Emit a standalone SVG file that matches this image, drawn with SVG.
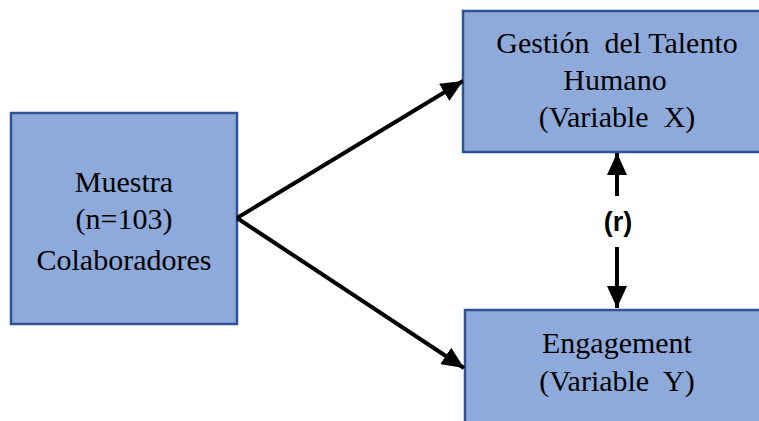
<svg xmlns="http://www.w3.org/2000/svg" width="759" height="421" viewBox="0 0 759 421">
  <style>
    .box { fill: #8EAADB; stroke: #2F5496; stroke-width: 2.5; }
    .lbl { font-family: "Liberation Serif", "Times New Roman", serif; font-size: 30px; fill: #000; text-anchor: middle; }
    .conn { stroke: #000; stroke-width: 4; fill: none; }
    .r { font-family: "Liberation Sans", Arial, sans-serif; font-size: 27px; font-weight: bold; fill: #000; text-anchor: middle; }
  </style>
  <defs>
    <marker id="ah" markerUnits="userSpaceOnUse" markerWidth="24" markerHeight="20" refX="22" refY="10" orient="auto">
      <path d="M0,0 L22,10 L0,20 Z" fill="#000"/>
    </marker>
  </defs>
  <rect width="759" height="421" fill="#fff"/>
  <g id="muestra">
    <rect class="box" x="11" y="113" width="226" height="211"/>
    <text class="lbl" x="124" y="192">Muestra</text>
    <text class="lbl" x="124" y="229">(n=103)</text>
    <text class="lbl" x="124" y="270">Colaboradores</text>
  </g>
  <g id="gestion">
    <rect class="box" x="463" y="11" width="310" height="141"/>
    <text class="lbl" x="617" y="53" xml:space="preserve">Gestión  del Talento</text>
    <text class="lbl" x="615" y="90">Humano</text>
    <text class="lbl" x="617" y="127" xml:space="preserve">(Variable  X)</text>
  </g>
  <g id="engagement">
    <rect class="box" x="465" y="310" width="310" height="130"/>
    <text class="lbl" x="617" y="353">Engagement</text>
    <text class="lbl" x="617" y="391" xml:space="preserve">(Variable  Y)</text>
  </g>
  <g id="connectors">
    <line class="conn" x1="237" y1="218" x2="463" y2="81" marker-end="url(#ah)"/>
    <line class="conn" x1="237" y1="218" x2="464" y2="368" marker-end="url(#ah)"/>
    <line class="conn" x1="617" y1="196" x2="617" y2="153" marker-end="url(#ah)"/>
    <line class="conn" x1="617" y1="247" x2="617" y2="308" marker-end="url(#ah)"/>
    <text class="r" x="618" y="231">(r)</text>
  </g>
</svg>
